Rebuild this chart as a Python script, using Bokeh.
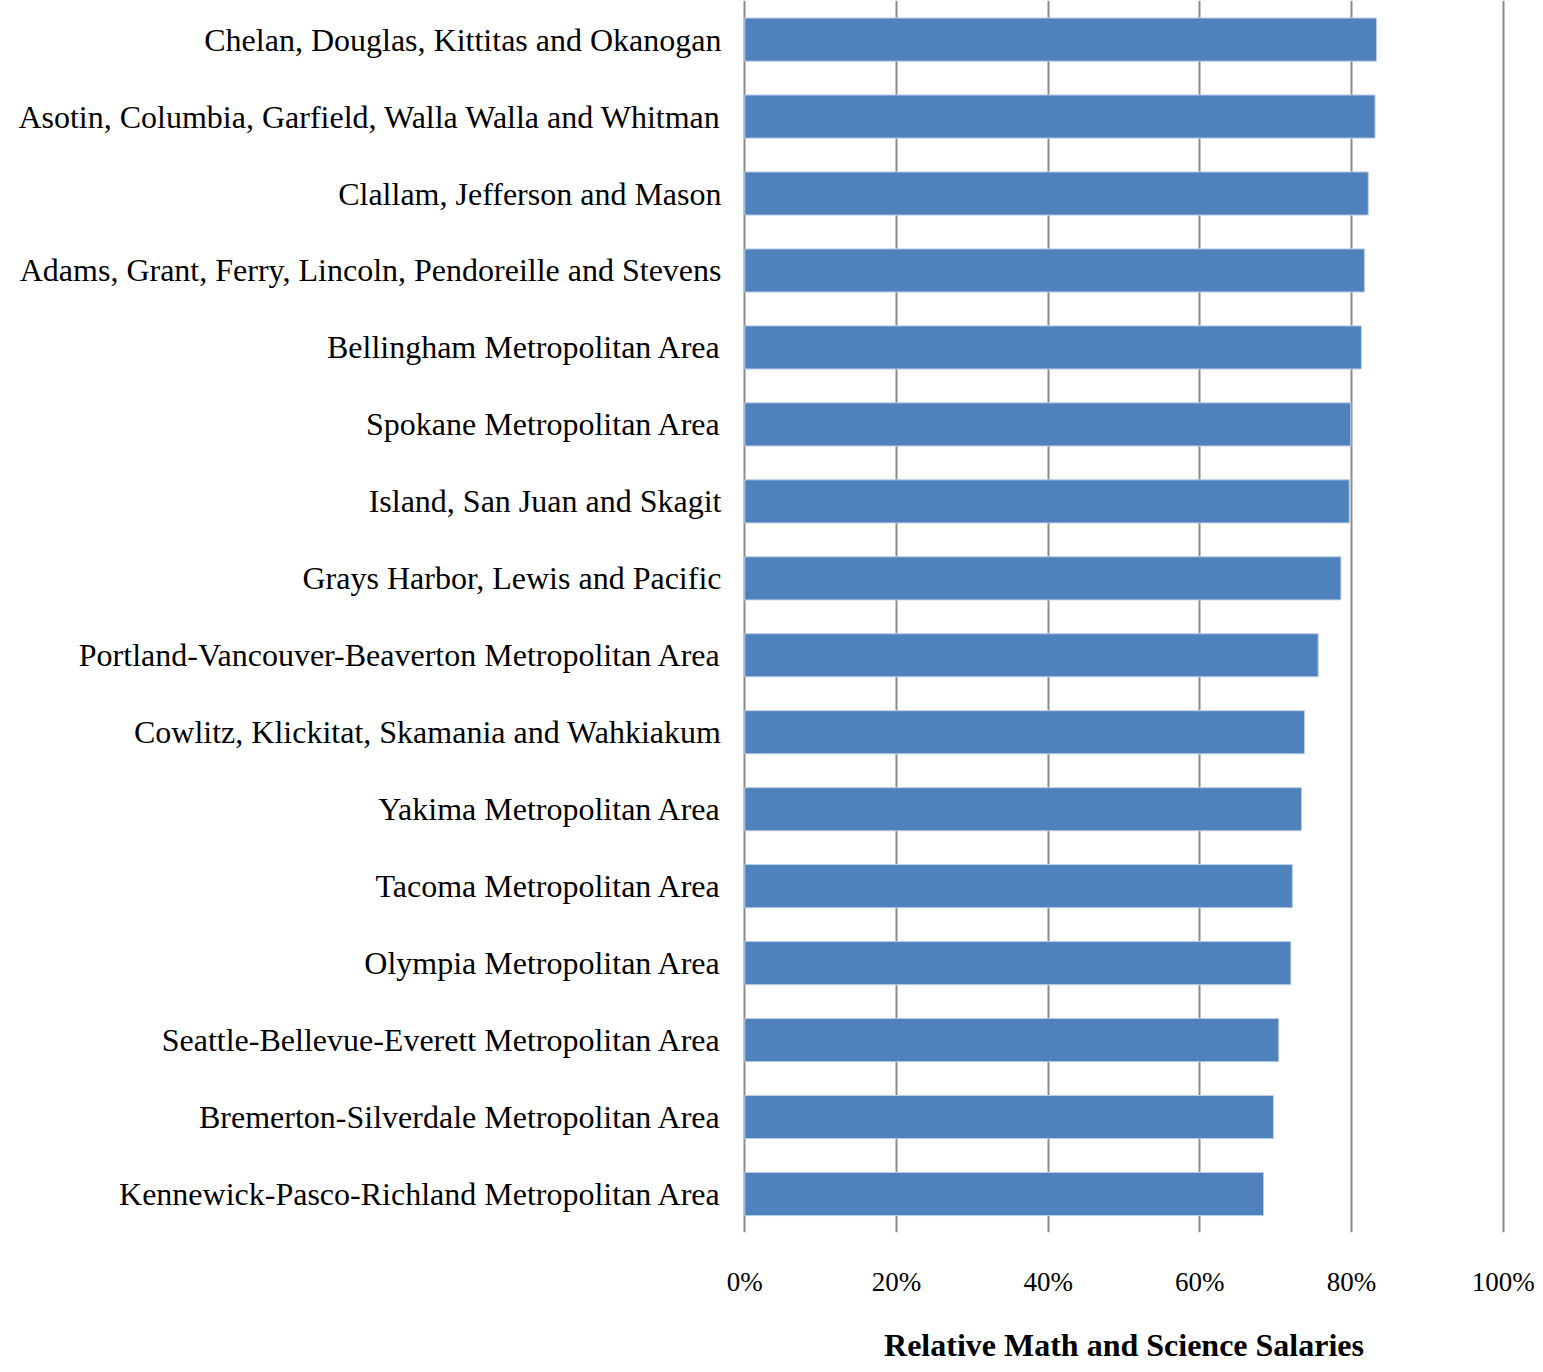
from bokeh.plotting import figure
from bokeh.models import Range1d, FixedTicker, NumeralTickFormatter, ColumnDataSource
from bokeh.embed import file_html
from bokeh.resources import INLINE

regions = [
    "Chelan, Douglas, Kittitas and Okanogan",
    "Asotin, Columbia, Garfield, Walla Walla and Whitman",
    "Clallam, Jefferson and Mason",
    "Adams, Grant, Ferry, Lincoln, Pendoreille and Stevens",
    "Bellingham Metropolitan Area",
    "Spokane Metropolitan Area",
    "Island, San Juan and Skagit",
    "Grays Harbor, Lewis and Pacific",
    "Portland-Vancouver-Beaverton Metropolitan Area",
    "Cowlitz, Klickitat, Skamania and Wahkiakum",
    "Yakima Metropolitan Area",
    "Tacoma Metropolitan Area",
    "Olympia Metropolitan Area",
    "Seattle-Bellevue-Everett Metropolitan Area",
    "Bremerton-Silverdale Metropolitan Area",
    "Kennewick-Pasco-Richland Metropolitan Area",
]
relative_salary = [0.833, 0.831, 0.822, 0.817, 0.813, 0.799, 0.797, 0.786,
                   0.756, 0.738, 0.734, 0.722, 0.720, 0.704, 0.697, 0.684]
x_ticks = [0, 0.2, 0.4, 0.6, 0.8, 1.0]
x_title = "Relative Math and Science Salaries"

pos = list(range(len(regions)))
src = ColumnDataSource(dict(y=pos, v=relative_salary))

p = figure(width=1543, height=1372, output_backend="svg", toolbar_location=None,
           x_range=Range1d(-0.003, 1.003), y_range=Range1d(15.5, -0.508),
           min_border_left=742, min_border_right=38, min_border_top=0, min_border_bottom=140)
p.hbar(y="y", right="v", left=0, height=0.56, source=src, fill_color="#4F81BD",
       line_color="#B9CDE5", line_width=1)

p.outline_line_color = None
p.ygrid.grid_line_color = None
p.xgrid.ticker = FixedTicker(ticks=x_ticks)
p.xgrid.grid_line_color = "#8C8C8C"
p.xgrid.grid_line_width = 2

p.yaxis.ticker = FixedTicker(ticks=pos)
p.yaxis.major_label_overrides = {i: r for i, r in enumerate(regions)}
p.yaxis.axis_line_color = None
p.yaxis.major_tick_line_color = None
p.yaxis.minor_tick_line_color = None
p.yaxis.major_label_standoff = 15
p.yaxis.major_label_text_font = "Liberation Serif"
p.yaxis.major_label_text_font_size = "32px"
p.yaxis.major_label_text_color = "black"

p.xaxis.ticker = FixedTicker(ticks=x_ticks)
p.xaxis.formatter = NumeralTickFormatter(format="0%")
p.xaxis.axis_line_color = None
p.xaxis.major_tick_line_color = None
p.xaxis.minor_tick_line_color = None
p.xaxis.major_label_standoff = 28
p.xaxis.major_label_text_font = "Liberation Serif"
p.xaxis.major_label_text_font_size = "27px"
p.xaxis.major_label_text_color = "black"
p.xaxis.axis_label = x_title
p.xaxis.axis_label_standoff = 27
p.xaxis.axis_label_text_font = "Liberation Serif"
p.xaxis.axis_label_text_font_style = "bold"
p.xaxis.axis_label_text_font_size = "32px"
p.xaxis.axis_label_text_color = "black"

open("out.html", "w").write(file_html(p, INLINE))
